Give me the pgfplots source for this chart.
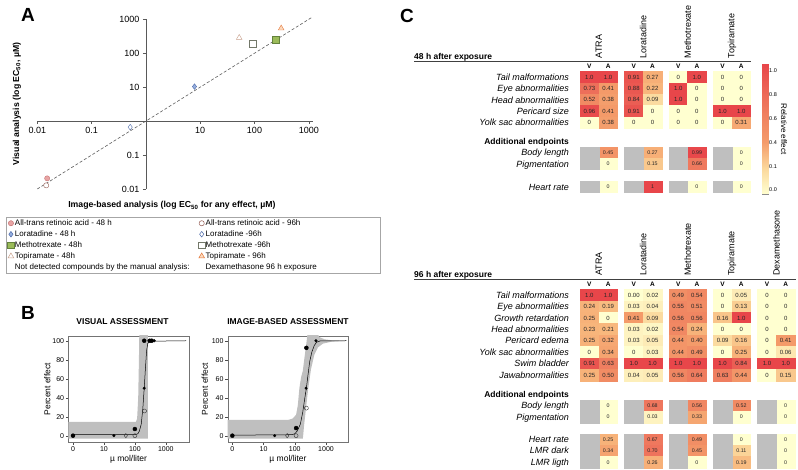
\documentclass[border=0pt]{standalone}
\usepackage{fontspec}
\setmainfont{Liberation Sans}
\usepackage{pgfplots}
\usepackage{pgfplotstable}
\pgfplotsset{compat=1.18}
\newcommand\fs[1]{\fontsize{#1}{#1}\selectfont}
\pgfdeclareplotmark{cell}{\pgfpathrectangle{\pgfqpoint{-9.35pt}{-5.7pt}}{\pgfqpoint{18.7pt}{11.4pt}}\pgfusepathqfillstroke}
\definecolor{atraF}{RGB}{232,165,165}
\definecolor{atraD}{RGB}{200,115,115}
\definecolor{atraO}{RGB}{150,95,85}
\definecolor{loraF}{RGB}{150,175,222}
\definecolor{loraD}{RGB}{75,105,170}
\definecolor{methoF}{RGB}{155,187,89}
\definecolor{methoD}{RGB}{100,130,60}
\definecolor{methoO}{RGB}{115,120,105}
\definecolor{topiA}{RGB}{200,160,140}
\definecolor{topiD}{RGB}{228,120,60}
\definecolor{topiF}{RGB}{252,218,190}
\definecolor{gcell}{RGB}{191,191,191}
\pgfplotsset{
  heat/.style={scatter, only marks, mark=cell, point meta=explicit,
    scatter/use mapped color={draw=mapped color, fill=mapped color}},
  celltxt/.style={only marks, mark=none, point meta=explicit symbolic,
    nodes near coords, nodes near coords align=center,
    every node near coord/.append style={anchor=center, text=black!85, inner sep=0pt, font=\fs{#1}}},
  graycell/.style={only marks, mark=cell, mark options={fill=gcell, draw=gcell}},
  rstyle/.style={scale only axis, width=120.5pt, height=106.5pt,
    ymin=-7.2, ymax=105,
    xtick={1,10,100,1000}, xticklabels={0,10,100,1000},
    ytick={0,20,40,60,80,100}, yticklabels={0,20,40,60,80,100},
    tick pos=left, tick align=outside, major tick length=2.5pt,
    axis line style={black!55}, tick style={black!70}, tick label style={font=\fs{7}, inner sep=1.5pt},
    xlabel={µ mol/liter}, ylabel={Percent effect}, label style={font=\fs{8.5}},
    title style={font=\bfseries\fs{8.5}, anchor=south, yshift=2pt}},
}
% ---- heat-map data (pixel positions of cells, value) ----
\pgfplotstableread{
x y v
589.4 77.3 1.0
608.1 77.3 1.0
633.8 77.3 0.91
652.5 77.3 0.27
678.2 77.3 0
696.9 77.3 1.0
722.6 77.3 0
741.3 77.3 0
589.4 88.6 0.73
608.1 88.6 0.41
633.8 88.6 0.88
652.5 88.6 0.22
678.2 88.6 1.0
696.9 88.6 0
722.6 88.6 0
741.3 88.6 0
589.4 99.9 0.52
608.1 99.9 0.38
633.8 99.9 0.84
652.5 99.9 0.09
678.2 99.9 1.0
696.9 99.9 0
722.6 99.9 0
741.3 99.9 0
589.4 111.2 0.96
608.1 111.2 0.41
633.8 111.2 0.91
652.5 111.2 0
678.2 111.2 0
696.9 111.2 0
722.6 111.2 1.0
741.3 111.2 1.0
589.4 122.5 0
608.1 122.5 0.38
633.8 122.5 0
652.5 122.5 0
678.2 122.5 0
696.9 122.5 0
722.6 122.5 0
741.3 122.5 0.31
}\tMainA
\pgfplotstableread{
x y v
608.1 152.7 0.45
652.5 152.7 0.27
696.9 152.7 0.99
741.3 152.7 0
608.1 164.0 0
652.5 164.0 0.15
696.9 164.0 0.66
741.3 164.0 0
608.1 186.9 0
652.5 186.9 1
696.9 186.9 0
741.3 186.9 0
}\tAddA
\pgfplotstableread{
x y v
589.4 295.2 1.0
608.1 295.2 1.0
633.8 295.2 0.00
652.5 295.2 0.02
678.2 295.2 0.49
696.9 295.2 0.54
722.6 295.2 0
741.3 295.2 0.05
767.0 295.2 0
785.7 295.2 0
589.4 306.6 0.24
608.1 306.6 0.19
633.8 306.6 0.03
652.5 306.6 0.04
678.2 306.6 0.55
696.9 306.6 0.51
722.6 306.6 0
741.3 306.6 0.13
767.0 306.6 0
785.7 306.6 0
589.4 318.0 0.25
608.1 318.0 0
633.8 318.0 0.41
652.5 318.0 0.09
678.2 318.0 0.56
696.9 318.0 0.56
722.6 318.0 0.16
741.3 318.0 1.0
767.0 318.0 0
785.7 318.0 0
589.4 329.4 0.23
608.1 329.4 0.21
633.8 329.4 0.03
652.5 329.4 0.02
678.2 329.4 0.54
696.9 329.4 0.24
722.6 329.4 0
741.3 329.4 0
767.0 329.4 0
785.7 329.4 0
589.4 340.8 0.25
608.1 340.8 0.32
633.8 340.8 0.03
652.5 340.8 0.05
678.2 340.8 0.44
696.9 340.8 0.40
722.6 340.8 0.09
741.3 340.8 0.16
767.0 340.8 0
785.7 340.8 0.41
589.4 352.2 0
608.1 352.2 0.34
633.8 352.2 0
652.5 352.2 0.03
678.2 352.2 0.44
696.9 352.2 0.49
722.6 352.2 0
741.3 352.2 0.25
767.0 352.2 0
785.7 352.2 0.06
589.4 363.6 0.91
608.1 363.6 0.63
633.8 363.6 1.0
652.5 363.6 1.0
678.2 363.6 1.0
696.9 363.6 1.0
722.6 363.6 1.0
741.3 363.6 0.84
767.0 363.6 1.0
785.7 363.6 1.0
589.4 375.0 0.25
608.1 375.0 0.50
633.8 375.0 0.04
652.5 375.0 0.05
678.2 375.0 0.56
696.9 375.0 0.64
722.6 375.0 0.63
741.3 375.0 0.44
767.0 375.0 0
785.7 375.0 0.15
}\tMainB
\pgfplotstableread{
x y v
608.1 405.6 0
652.5 405.6 0.68
696.9 405.6 0.56
741.3 405.6 0.52
785.7 405.6 0
608.1 417.0 0
652.5 417.0 0.03
696.9 417.0 0.33
741.3 417.0 0
785.7 417.0 0
608.1 439.4 0.25
652.5 439.4 0.67
696.9 439.4 0.49
741.3 439.4 0
785.7 439.4 0
608.1 450.8 0.34
652.5 450.8 0.70
696.9 450.8 0.45
741.3 450.8 0.11
785.7 450.8 0
608.1 462.2 0
652.5 462.2 0.26
696.9 462.2 0
741.3 462.2 0.19
785.7 462.2 0
}\tAddB
\begin{document}
\begin{tikzpicture}
% ===== overlay axis (pixel coordinates) for panel C heatmaps =====
\begin{axis}[at={(0pt,0pt)}, anchor=south west, scale only axis, width=798pt, height=470pt,
  xmin=0, xmax=798, ymin=0, ymax=470, y dir=reverse, axis lines=none, clip=false,
  colormap={cellmap}{rgb255(0cm)=(255,255,208) rgb255(1cm)=(251,215,155) rgb255(2cm)=(248,185,126) rgb255(3cm)=(246,170,116) rgb255(4cm)=(244,155,106) rgb255(5cm)=(241,140,100) rgb255(6cm)=(240,130,97) rgb255(7cm)=(238,115,92) rgb255(8cm)=(236,100,86) rgb255(9cm)=(234,85,80) rgb255(10cm)=(232,70,74)},
  point meta min=0, point meta max=1]
\addplot[heat] table[meta=v] {\tMainA};
\addplot[heat] table[meta=v] {\tAddA};
\addplot[heat] table[meta=v] {\tMainB};
\addplot[heat] table[meta=v] {\tAddB};
\addplot[graycell] table {
x y
589.4 152.7
633.8 152.7
678.2 152.7
722.6 152.7
589.4 164.0
633.8 164.0
678.2 164.0
722.6 164.0
589.4 186.9
633.8 186.9
678.2 186.9
722.6 186.9
589.4 405.6
633.8 405.6
678.2 405.6
722.6 405.6
767.0 405.6
589.4 417.0
633.8 417.0
678.2 417.0
722.6 417.0
767.0 417.0
589.4 439.4
633.8 439.4
678.2 439.4
722.6 439.4
767.0 439.4
589.4 450.8
633.8 450.8
678.2 450.8
722.6 450.8
767.0 450.8
589.4 462.2
633.8 462.2
678.2 462.2
722.6 462.2
767.0 462.2
};
\addplot[celltxt=6] table[meta=v] {\tMainA};
\addplot[celltxt=5.3] table[meta=v] {\tAddA};
\addplot[celltxt=6] table[meta=v] {\tMainB};
\addplot[celltxt=5.3] table[meta=v] {\tAddB};
\end{axis}

% ===== texts of panel C in pixel coordinates =====
\begin{scope}[x=1pt, y=-1pt, shift={(0pt,470pt)}]
\node[font=\bfseries\fs{19}] at (28,15) {A};
\node[font=\bfseries\fs{19}] at (28,313) {B};
\node[font=\bfseries\fs{19}] at (407,16) {C};
% 48 h header
\node[anchor=base west, font=\bfseries\fs{8.5}, inner sep=0pt] at (414,59.5) {48 h after exposure};
\draw[black!75, line width=0.8pt] (414,61.7) -- (751,61.7);
\foreach \xx/\nm in {598.75/ATRA,643.15/Loratadine,687.55/Methotrexate,731.95/Topiramate}
  \node[rotate=90, anchor=west, font=\fs{9}, inner sep=0pt] at (\xx,58.5) {\nm};
\foreach \xx in {589.4,633.8,678.2,722.6}
  \node[font=\bfseries\fs{6.5}, inner sep=0pt] at (\xx,66.7) {V};
\foreach \xx in {608.1,652.5,696.9,741.3}
  \node[font=\bfseries\fs{6.5}, inner sep=0pt] at (\xx,66.7) {A};
\foreach \yy/\nm in {77.3/Tail malformations,88.6/Eye abnormalities,99.9/Head abnormalities,111.2/Pericard size,122.5/Yolk sac abnormalities,152.7/Body length,164.0/Pigmentation,186.9/Heart rate}
  \node[anchor=base east, font=\itshape\fs{9}, inner sep=0pt] at (569,\yy+3.2) {\nm};
\node[anchor=base east, font=\bfseries\fs{8.5}, inner sep=0pt] at (569,144.8) {Additional endpoints};
% 96 h header
\node[anchor=base west, font=\bfseries\fs{8.5}, inner sep=0pt] at (414,277.2) {96 h after exposure};
\draw[black!75, line width=0.8pt] (414,279.3) -- (796,279.3);
\foreach \xx/\nm in {598.75/ATRA,643.15/Loratadine,687.55/Methotrexate,731.95/Topiramate,776.35/Dexamethasone}
  \node[rotate=90, anchor=west, font=\fs{9}, inner sep=0pt] at (\xx,276) {\nm};
\foreach \xx in {589.4,633.8,678.2,722.6,767.0}
  \node[font=\bfseries\fs{6.5}, inner sep=0pt] at (\xx,284.3) {V};
\foreach \xx in {608.1,652.5,696.9,741.3,785.7}
  \node[font=\bfseries\fs{6.5}, inner sep=0pt] at (\xx,284.3) {A};
\foreach \yy/\nm in {295.2/Tail malformations,306.6/Eye abnormalities,318.0/Growth retardation,329.4/Head abnormalities,340.8/Pericard edema,352.2/Yolk sac abnormalities,363.6/Swim bladder,375.0/Jawabnormalities,405.6/Body length,417.0/Pigmentation,439.4/Heart rate,450.8/LMR dark,462.2/LMR ligth}
  \node[anchor=base east, font=\itshape\fs{9}, inner sep=0pt] at (569,\yy+3.2) {\nm};
\node[anchor=base east, font=\bfseries\fs{8.5}, inner sep=0pt] at (569,397.4) {Additional endpoints};
\node[rotate=-90, font=\fs{8}, inner sep=0pt] at (784,129) {Relative effect};
\end{scope}

% ===== colour bar =====
\begin{axis}[at={(762pt,276pt)}, anchor=south west, scale only axis, width=6pt, height=130pt,
  xmin=0, xmax=1, ymin=-0.168, ymax=5.281, xtick=\empty,
  ytick={0,1,2,3,4,5}, yticklabels={0.0,0.1,0.4,0.6,0.8,1.0}, ytick pos=left, yticklabel pos=right,
  tick align=inside, major tick length=2pt, tick style={black!45},
  axis line style={black!45}, tick label style={font=\fs{5.5}, inner sep=1pt},
  colormap={cbar}{rgb255(0cm)=(255,255,208) rgb255(1cm)=(251,215,155) rgb255(2cm)=(244,155,106) rgb255(3cm)=(240,130,97) rgb255(4cm)=(236,100,86) rgb255(5cm)=(232,70,74)},
  point meta min=0, point meta max=5]
\addplot[surf, shader=interp, mesh/cols=2, point meta=y] coordinates {(0,-0.168) (1,-0.168) (0,5.281) (1,5.281)};
\end{axis}

% ===== panel A =====
\begin{axis}[at={(37.3pt,281pt)}, anchor=south west, scale only axis, width=275.8pt, height=169.7pt,
  xmode=log, ymode=log, xmin=0.01, xmax=1200, ymin=0.01, ymax=1000,
  axis lines=middle, axis line style={-, black!65},
  xtick={0.01,0.1,1,10,100,1000}, xticklabels={0.01,0.1,1,10,100,1000},
  ytick={0.01,0.1,10,100,1000}, yticklabels={0.01,0.1,10,100,1000},
  xminorticks=false, yminorticks=false,
  tick align=outside, major tick length=3pt, tick style={black!65},
  tick label style={font=\fs{9}}, clip=false,
  xlabel={Image-based analysis (log EC\textsubscript{50} for any effect, µM)},
  ylabel={Visual analysis (log EC\textsubscript{50}, µM)},
  every axis x label/.style={at={(axis description cs:0.488,-0.098)}, anchor=center, font=\bfseries\fs{8.7}},
  every axis y label/.style={at={(axis description cs:-0.0736,0.501)}, anchor=center, rotate=90, font=\bfseries\fs{8.7}},
  legend columns=2,
  legend image code/.code={\draw[#1] plot coordinates {(0pt,0pt)};},
  legend style={at={(axis description cs:-0.1135,-0.165)}, anchor=north west, draw=black!35, line width=0.5pt,
    font=\fs{8}, inner sep=1.5pt, row sep=2pt, cells={anchor=west},
    nodes={inner sep=0.8pt, text height=5.8pt, text depth=1.6pt},
    /tikz/every even column/.append style={column sep=8pt}},
  legend cell align=left]
\addplot[forget plot, densely dashed, black!65, line width=0.6pt] coordinates {(0.01,0.01) (1150,1150)};
\addplot[only marks, mark=*, mark size=2.6pt, mark options={fill=atraF, draw=atraD}] coordinates {(0.0152,0.0206)};
\addlegendentry{All-trans retinoic acid - 48 h}
\addplot[only marks, mark=*, mark size=2.6pt, mark options={fill=white, draw=atraO}] coordinates {(0.0146,0.0128)};
\addlegendentry{\makebox[172pt][l]{All-trans retinoic acid - 96h}}
\addplot[only marks, mark=diamond*, mark size=2.8pt, mark options={fill=loraF, draw=loraD}] coordinates {(7.85,10.4)};
\addlegendentry{Loratadine - 48 h}
\addplot[only marks, mark=diamond*, mark size=2.8pt, mark options={fill=white, draw=loraD}] coordinates {(0.514,0.664)};
\addlegendentry{Loratadine -96h}
\addplot[only marks, mark=square*, mark size=3.2pt, mark options={fill=methoF, draw=methoD}] coordinates {(244,249)};
\addlegendentry{Methotrexate - 48h}
\addplot[only marks, mark=square*, mark size=3.2pt, mark options={fill=white, draw=methoO}] coordinates {(92,190)};
\addlegendentry{Methotrexate -96h}
\addplot[only marks, mark=triangle*, mark size=3.3pt, mark options={fill=white, draw=topiA}] coordinates {(52.3,286)};
\addlegendentry{Topiramate - 48h}
\addplot[only marks, mark=triangle*, mark size=3.3pt, mark options={fill=topiF, draw=topiD}] coordinates {(310,542)};
\addlegendentry{Topiramate - 96h}
\addlegendimage{empty legend}
\addlegendentry{Not detected compounds by the manual analysis:}
\addlegendimage{empty legend}
\addlegendentry{Dexamethasone 96 h exposure}
\end{axis}

% ===== panel B =====
\begin{axis}[rstyle, xmode=log, xminorticks=false, at={(68.3pt,27.5pt)}, anchor=south west, xmin=0.705, xmax=5520,
  title={VISUAL ASSESSMENT}, title style={at={(axis description cs:0.45,1)}},
  xlabel style={at={(axis description cs:0.5,-0.16)}, anchor=center},
  ylabel style={at={(axis description cs:-0.174,0.5)}, anchor=center}]
\addplot[fill=gcell, draw=none] coordinates {(0.5,14.5) (108,14.5) (118,18) (128,40) (135,80) (140,115) (262,115) (262,-3) (0.5,-3)} -- cycle;
\addplot[black, line width=0.5pt] coordinates {(1,1) (100,1) (125,2) (140,5) (160,12) (180,28) (200,50) (220,72) (240,90) (260,97) (300,99.5) (4500,100)};
\addplot[only marks, mark=*, mark size=2pt, black] coordinates {(1,0) (100,7) (200,100) (300,100) (350,100)};
\addplot[only marks, mark=*, mark size=1.3pt, black] coordinates {(21,0) (200,50) (420,100)};
\addplot[only marks, mark=o, mark size=2pt, black!80, mark options={fill=white}] coordinates {(100,0) (205,26)};
\addplot[only marks, mark=diamond, mark size=2.2pt, black!80] coordinates {(51,0)};
\end{axis}

\begin{axis}[rstyle, xmode=log, xminorticks=false, at={(227.7pt,27.5pt)}, anchor=south west, xmin=0.71, xmax=5130,
  title={IMAGE-BASED ASSESSMENT}, title style={at={(axis description cs:0.5,1)}},
  xlabel style={at={(axis description cs:0.5,-0.16)}, anchor=center},
  ylabel style={at={(axis description cs:-0.189,0.5)}, anchor=center}]
\addplot[fill=gcell, draw=none] coordinates {(0.5,16.5) (60,16.5) (85,18) (110,22) (125,32) (140,50) (160,62) (180,68) (200,80) (240,100) (270,115) (450,115) (600,104) (900,101.5) (1500,100.5) (4500,100) (1500,99) (800,97) (550,93) (420,85) (330,70) (270,50) (230,30) (200,12) (185,0) (180,-3) (0.5,-3)} -- cycle;
\addplot[black, line width=0.5pt] coordinates {(1,0.5) (80,1) (100,2) (120,5) (150,12) (180,25) (210,40) (235,50) (260,62) (300,78) (350,88) (420,95) (500,98.5) (650,99.8) (4500,100)};
\addplot[only marks, mark=*, mark size=2pt, black] coordinates {(1,0) (110,8) (235,92.5)};
\addplot[only marks, mark=*, mark size=1.3pt, black] coordinates {(22.7,0) (230,50) (475,100)};
\addplot[only marks, mark=o, mark size=2pt, black!80, mark options={fill=white}] coordinates {(110,0) (235,29)};
\addplot[only marks, mark=diamond, mark size=2.2pt, black!80] coordinates {(57,0)};
\end{axis}

\pgfresetboundingbox
\useasboundingbox (0pt,0pt) rectangle (798pt,470pt);
\end{tikzpicture}
\end{document}
